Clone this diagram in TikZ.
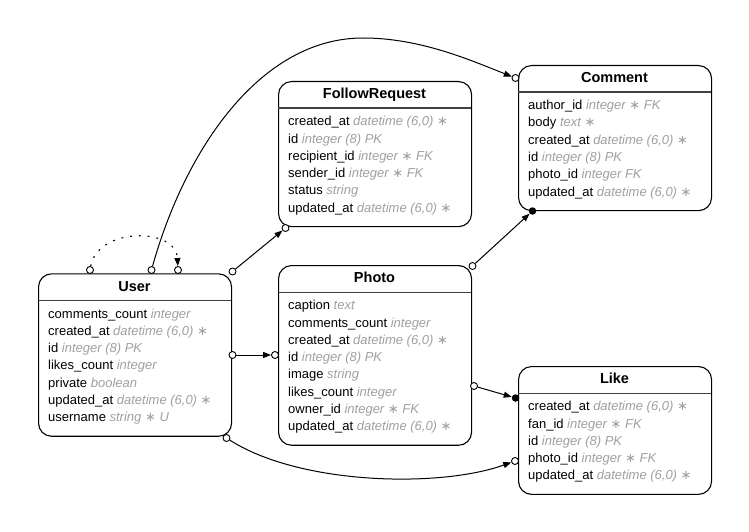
\documentclass[tikz,border=0pt]{standalone}
\usepackage{fontspec}
\setmainfont{Liberation Sans}
\newfontfamily\symfont{DejaVu Sans}
\usetikzlibrary{arrows.meta}

\definecolor{typegray}{HTML}{A0A0A0}
\definecolor{rulegray}{HTML}{404040}

% column type in gray italics, required marker as a math asterisk
\newcommand{\ty}[1]{{\color{typegray}\itshape #1}}
\newcommand{\req}{{\symfont\upshape ∗}}

\tikzset{
  entity/.style={draw, line width=1.1pt, rounded corners=13pt, fill=white,
    anchor=north west, inner sep=0pt, minimum width=193pt},
  headrule/.style={draw=rulegray, line width=1.6pt},
  etitle/.style={font=\fontsize{14.5}{16}\selectfont\bfseries, anchor=base, inner sep=0pt},
  field/.style={font=\fontsize{13}{15}\selectfont, anchor=base west, inner sep=0pt},
  rel/.style={line width=1pt, -{Triangle[length=8pt,width=6pt]}},
  selfrel/.style={rel, line width=1.1pt, dash pattern=on 1.8pt off 7pt},
  ocirc/.style={circle, draw, fill=white, line width=0.9pt, inner sep=0pt, minimum size=7pt},
  fdot/.style={circle, fill=black, inner sep=0pt, minimum size=7.5pt},
}

% #1 name, #2 left, #3 top, #4 title, #5 number of rows, #6 rows
\newcommand{\erentity}[6]{%
  \node[entity, minimum height={41.3pt+17.3pt*#5}] (#1) at (#2,#3) {};
  \draw[headrule] (#2,#3+27.3) -- (#2+193,#3+27.3);
  \node[etitle] (#1-title) at (#2+96.5,#3+17.7) {#4};
  \foreach \row [count=\i from 0] in {#6}
    \node[field] (#1-r\i) at ({#2+10},{#3+44.7+17.3*\i}) {\row};
}

\begin{document}
\begin{tikzpicture}[x=1pt,y=-1pt]
\useasboundingbox[fill=white] (0,0) rectangle (749,532);

\erentity{user}{38}{273.3}{User}{7}{%
  {comments\_count \ty{integer}},
  {created\_at \ty{datetime (6,0) \req}},
  {id \ty{integer (8) PK}},
  {likes\_count \ty{integer}},
  {private \ty{boolean}},
  {updated\_at \ty{datetime (6,0) \req}},
  {username \ty{string \req\ U}}}

\erentity{follow}{278}{81}{FollowRequest}{6}{%
  {created\_at \ty{datetime (6,0) \req}},
  {id \ty{integer (8) PK}},
  {recipient\_id \ty{integer \req\ FK}},
  {sender\_id \ty{integer \req\ FK}},
  {status \ty{string}},
  {updated\_at \ty{datetime (6,0) \req}}}

\erentity{comment}{518}{65}{Comment}{6}{%
  {author\_id \ty{integer \req\ FK}},
  {body \ty{text \req}},
  {created\_at \ty{datetime (6,0) \req}},
  {id \ty{integer (8) PK}},
  {photo\_id \ty{integer FK}},
  {updated\_at \ty{datetime (6,0) \req}}}

\erentity{photo}{278}{265}{Photo}{8}{%
  {caption \ty{text}},
  {comments\_count \ty{integer}},
  {created\_at \ty{datetime (6,0) \req}},
  {id \ty{integer (8) PK}},
  {image \ty{string}},
  {likes\_count \ty{integer}},
  {owner\_id \ty{integer \req\ FK}},
  {updated\_at \ty{datetime (6,0) \req}}}

\erentity{like}{518}{366}{Like}{5}{%
  {created\_at \ty{datetime (6,0) \req}},
  {fan\_id \ty{integer \req\ FK}},
  {id \ty{integer (8) PK}},
  {photo\_id \ty{integer \req\ FK}},
  {updated\_at \ty{datetime (6,0) \req}}}

% relationship end markers
\node[ocirc] (u-self-a) at (90,270) {};
\node[ocirc] (u-self-b) at (178,270) {};
\node[ocirc] (u-com) at (151.5,270) {};
\node[ocirc] (com-u) at (515.5,78) {};
\node[ocirc] (u-fol) at (232.5,271.5) {};
\node[ocirc] (fol-u) at (285.5,228) {};
\node[ocirc] (u-pho) at (232.5,355) {};
\node[ocirc] (pho-u) at (275,355) {};
\node[ocirc] (pho-com) at (472.5,266) {};
\node[fdot]  (com-pho) at (532.5,211) {};
\node[ocirc] (pho-lik) at (474,386) {};
\node[fdot]  (lik-pho) at (515.5,398) {};
\node[ocirc] (u-lik) at (226.5,438) {};
\node[ocirc] (lik-u) at (515,461) {};

% relationships
\draw[selfrel] (u-self-a) .. controls +(8,-43) and +(-2,-43) .. (u-self-b);
\draw[rel] (u-com) .. controls (185,150) and (260,38) .. (363,38)
                   .. controls (420,38) and (470,60) .. (com-u);
\draw[rel] (u-fol) -- (fol-u);
\draw[rel] (u-pho) -- (pho-u);
\draw[rel] (pho-com) -- (com-pho);
\draw[rel] (pho-lik) -- (lik-pho);
\draw[rel] (u-lik) .. controls (300,485) and (440,488) .. (lik-u);
\end{tikzpicture}
\end{document}
